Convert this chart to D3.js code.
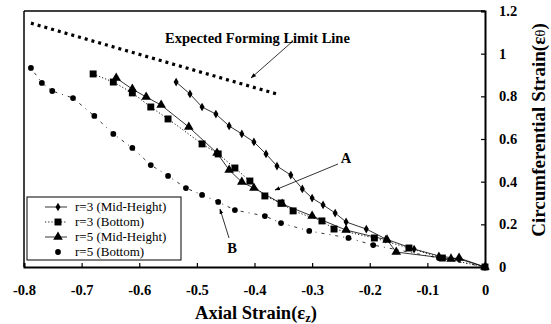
<!DOCTYPE html>
<html>
<head>
<meta charset="utf-8">
<script src="https://cdn.jsdelivr.net/npm/d3@7"></script>
<style>
  body { margin: 0; background: #fff; }
  text { font-family: "Liberation Serif", "Times New Roman", serif; fill: #000; }
</style>
</head>
<body>
<script>
// Data
var xTicks = [-0.8, -0.7, -0.6, -0.5, -0.4, -0.3, -0.2, -0.1, 0];
var yTicks = [0, 0.2, 0.4, 0.6, 0.8, 1, 1.2];

var r3MidX = [-0.536, -0.512, -0.491, -0.467, -0.444, -0.422, -0.401, -0.380, -0.361, -0.337, -0.317, -0.300, -0.281, -0.260, -0.241, -0.206, -0.172, -0.123, -0.080, -0.045, 0];
var r3MidY = [0.867, 0.811, 0.750, 0.717, 0.661, 0.624, 0.586, 0.530, 0.473, 0.431, 0.366, 0.323, 0.291, 0.253, 0.211, 0.178, 0.131, 0.084, 0.052, 0.038, 0];

var r3BotX = [-0.680, -0.645, -0.612, -0.580, -0.550, -0.491, -0.463, -0.434, -0.408, -0.382, -0.354, -0.333, -0.283, -0.262, -0.192, -0.132, -0.074, 0];
var r3BotY = [0.905, 0.867, 0.816, 0.750, 0.694, 0.577, 0.530, 0.464, 0.403, 0.333, 0.300, 0.263, 0.216, 0.178, 0.136, 0.089, 0.042, 0];

var r5MidX = [-0.640, -0.612, -0.588, -0.562, -0.514, -0.465, -0.444, -0.422, -0.401, -0.352, -0.300, -0.241, -0.170, -0.154, -0.059, -0.045, 0];
var r5MidY = [0.886, 0.834, 0.797, 0.759, 0.656, 0.534, 0.455, 0.398, 0.370, 0.295, 0.239, 0.173, 0.127, 0.070, 0.038, 0.042, 0];

var r5BotX = [-0.788, -0.769, -0.751, -0.715, -0.678, -0.645, -0.612, -0.580, -0.550, -0.519, -0.491, -0.463, -0.434, -0.382, -0.354, -0.305, -0.237, -0.194, -0.080, 0];
var r5BotY = [0.933, 0.863, 0.825, 0.792, 0.708, 0.624, 0.558, 0.478, 0.427, 0.370, 0.338, 0.305, 0.267, 0.239, 0.206, 0.169, 0.136, 0.103, 0.042, 0];

var limitX = [-0.788, -0.36];
var limitY = [1.143, 0.81];

var legendLabels = ["r=3 (Mid-Height)", "r=3 (Bottom)", "r=5 (Mid-Height)", "r=5 (Bottom)"];

var serif = "'Liberation Serif', 'Times New Roman', serif";

// Chart parameters
var svgWidth = 551, svgHeight = 324;
var svg = d3.select("body").append("svg")
            .attr("width", svgWidth)
            .attr("height", svgHeight);

var x = d3.scaleLinear().domain([-0.8, 0]).range([24, 485]);
var y = d3.scaleLinear().domain([0, 1.2]).range([267, 11]);

// plain hyphen minus like the original figure
var fmt = d => d === 0 ? "0" : (d === 1 ? "1" : d3.format(".1f")(d).replace("−", "-"));

// frame
svg.append("line").attr("x1", 24).attr("x2", 485).attr("y1", 11).attr("y2", 11)
   .attr("stroke", "#000").attr("stroke-width", 1.5);
svg.append("line").attr("x1", 24).attr("x2", 24).attr("y1", 11).attr("y2", 267)
   .attr("stroke", "#000").attr("stroke-width", 1.5);

// bottom axis, ticks pointing in
var bottomAxis = d3.axisBottom(x).tickValues(xTicks).tickSize(-4).tickFormat(fmt);
var gx = svg.append("g").attr("transform", "translate(0,267)").call(bottomAxis);
gx.attr("font-family", serif);
gx.select(".domain").attr("stroke-width", 2);
gx.selectAll(".tick line").attr("stroke-width", 1.2);
gx.selectAll(".tick text")
  .attr("y", 18)
  .style("font-family", serif)
  .style("font-size", "14.5px")
  .style("font-weight", "bold");

// right axis, ticks pointing in
var rightAxis = d3.axisRight(y).tickValues(yTicks).tickSize(-4).tickFormat(fmt);
var gy = svg.append("g").attr("transform", "translate(485,0)").call(rightAxis);
gy.attr("font-family", serif);
gy.select(".domain").attr("stroke-width", 2);
gy.selectAll(".tick line").attr("stroke-width", 1.2);
gy.selectAll(".tick text")
  .attr("x", 14)
  .style("font-family", serif)
  .style("font-size", "14.5px")
  .style("font-weight", "bold");

// axis titles
var xt = svg.append("text").attr("x", 256).attr("y", 319).attr("text-anchor", "middle")
            .style("font-size", "18.5px").style("font-weight", "bold");
xt.append("tspan").text("Axial Strain(ε");
xt.append("tspan").attr("dy", 3).style("font-size", "12.5px").text("z");
xt.append("tspan").attr("dy", -3).text(")");

var yt = svg.append("text").attr("transform", "translate(545,130) rotate(-90)").attr("text-anchor", "middle")
            .style("font-size", "19px").style("font-weight", "bold");
yt.append("tspan").text("Circumferential Strain(ε");
yt.append("tspan").style("font-weight", "normal").style("font-size", "15px").text("θ");
yt.append("tspan").text(")");

// forming limit line
var limitPts = limitX.map((d, i) => [d, limitY[i]]);
svg.append("path")
   .attr("d", d3.line().x(d => x(d[0])).y(d => y(d[1]))(limitPts))
   .attr("fill", "none").attr("stroke", "#000")
   .attr("stroke-width", 3.2).attr("stroke-dasharray", "3,4");

// arrow marker
svg.append("defs").append("marker")
   .attr("id", "arr").attr("viewBox", "0 0 10 10").attr("refX", 9).attr("refY", 5)
   .attr("markerWidth", 7).attr("markerHeight", 7).attr("orient", "auto")
   .append("path").attr("d", "M0,1.5L10,5L0,8.5z").attr("fill", "#000");

// series
var series = [
  { xs: r3MidX, ys: r3MidY, sym: d3.symbolDiamond, size: 22, dash: null, lw: 0.8 },
  { xs: r3BotX, ys: r3BotY, sym: d3.symbolSquare, size: 48, dash: "1.2,2", lw: 0.9 },
  { xs: r5MidX, ys: r5MidY, sym: d3.symbolTriangle, size: 40, dash: null, lw: 0.8 },
  { xs: r5BotX, ys: r5BotY, sym: d3.symbolCircle, size: 26, dash: "1,5,3,5", lw: 0.8 }
];

var lineGen = d3.line().x(d => x(d[0])).y(d => y(d[1]));

series.forEach(function(s) {
  var pts = s.xs.map((d, i) => [d, s.ys[i]]);
  svg.append("path")
     .attr("d", lineGen(pts))
     .attr("fill", "none").attr("stroke", "#000")
     .attr("stroke-width", s.lw)
     .attr("stroke-dasharray", s.dash);
  svg.append("g").selectAll("path")
     .data(pts).enter().append("path")
     .attr("d", d3.symbol().type(s.sym).size(s.size))
     .attr("transform", d => `translate(${x(d[0])},${y(d[1])})`)
     .attr("fill", "#000");
});

// annotations
svg.append("text").attr("x", 165).attr("y", 43)
   .style("font-size", "14.5px").style("font-weight", "bold")
   .text("Expected Forming Limit Line");
svg.append("line").attr("x1", 293).attr("y1", 41).attr("x2", 251).attr("y2", 78)
   .attr("stroke", "#000").attr("stroke-width", 0.8).attr("marker-end", "url(#arr)");

svg.append("text").attr("x", 346).attr("y", 163).attr("text-anchor", "middle")
   .style("font-size", "14.5px").style("font-weight", "bold").text("A");
svg.append("line").attr("x1", 338).attr("y1", 164).attr("x2", 275).attr("y2", 190)
   .attr("stroke", "#000").attr("stroke-width", 0.8).attr("marker-end", "url(#arr)");

svg.append("text").attr("x", 232).attr("y", 253).attr("text-anchor", "middle")
   .style("font-size", "14.5px").style("font-weight", "bold").text("B");
svg.append("line").attr("x1", 229).attr("y1", 238).attr("x2", 220).attr("y2", 209)
   .attr("stroke", "#000").attr("stroke-width", 0.8).attr("marker-end", "url(#arr)");

// legend
var legend = svg.append("g").attr("transform", "translate(27,197)");
legend.append("rect").attr("width", 154).attr("height", 63)
      .attr("fill", "#fff").attr("stroke", "#000").attr("stroke-width", 1);
legendLabels.forEach(function(lbl, i) {
  var s = series[i];
  var ly = 10 + i * 15;
  if (i < 3) {
    legend.append("line").attr("x1", 18).attr("x2", 40).attr("y1", ly).attr("y2", ly)
          .attr("stroke", "#000").attr("stroke-width", s.lw)
          .attr("stroke-dasharray", s.dash);
  }
  legend.append("path").attr("d", d3.symbol().type(s.sym).size(s.size))
        .attr("transform", `translate(31,${ly})`).attr("fill", "#000");
  legend.append("text").attr("x", 48).attr("y", ly + 4)
        .style("font-family", serif)
        .style("font-size", "13px").text(lbl);
});
</script>
</body>
</html>
